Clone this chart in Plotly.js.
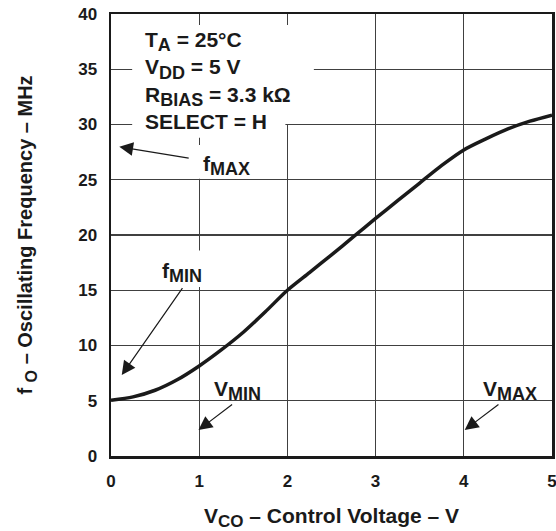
<!DOCTYPE html>
<html>
<head>
<meta charset="utf-8">
<script src="https://cdn.plot.ly/plotly-3.0.1.min.js"></script>
<style>html,body{margin:0;padding:0;background:#fff;}#chart{width:556px;height:531px;}</style>
</head>
<body>
<div id="chart"></div>
<script>
// Data
const vco = [0, 0.25, 0.5, 0.75, 1.0, 1.25, 1.5, 1.75, 2.0, 2.25, 2.5, 2.75, 3.0, 3.25, 3.5, 3.75, 4.0, 4.25, 4.5, 4.75, 5.0];
const freq = [5.05, 5.35, 5.95, 6.9, 8.15, 9.6, 11.2, 13.05, 15.0, 16.6, 18.2, 19.85, 21.5, 23.1, 24.7, 26.3, 27.7, 28.7, 29.6, 30.3, 30.85];
const xTicks = [0, 1, 2, 3, 4, 5];
const yTicks = [0, 5, 10, 15, 20, 25, 30, 35, 40];

const S = (t, px) => '<sub><span style="font-size:' + px + 'px">' + t + '</span></sub>';
const conditionLines = ['T' + S('A', 18) + ' = 25°C', 'V' + S('DD', 18) + ' = 5 V', 'R' + S('BIAS', 18) + ' = 3.3 kΩ', 'SELECT = H'];
const xTitle = 'V' + S('CO', 17) + ' – Control Voltage – V';
const yTitle = 'f ' + S('O', 16) + ' – Oscillating Frequency – MHz';

const FONT = 'Liberation Sans, Arial, sans-serif';
const txt = () => ({family: FONT, size: 21, color: '#1a1a1a', weight: 'bold'});

const trace = {
  x: vco, y: freq, type: 'scatter', mode: 'lines',
  line: {color: '#1a1a1a', width: 3.5, shape: 'spline', smoothing: 0.8},
  hoverinfo: 'skip', showlegend: false
};

const rect = (x0, x1, y0, y1) => ({type: 'rect', xref: 'x', yref: 'y', x0, x1, y0, y1,
  fillcolor: '#ffffff', line: {width: 0}, layer: 'between'});

const arrow = (x, y, ax, ay) => ({x, y, ax, ay, xref: 'x', yref: 'y', axref: 'x', ayref: 'y',
  text: '', showarrow: true, arrowhead: 2, arrowsize: 2.3, arrowwidth: 1.2, arrowcolor: '#1a1a1a', standoff: 0});

const label = (x, y, text) => ({x, y, xref: 'x', yref: 'y', text, showarrow: false,
  xanchor: 'left', yanchor: 'middle', font: txt()});

const layout = {
  width: 556, height: 531,
  margin: {l: 111, r: 4, t: 14, b: 75},
  paper_bgcolor: '#fff', plot_bgcolor: '#fff',
  font: {family: FONT, color: '#1a1a1a'},
  xaxis: {
    range: [0, 5], tickvals: xTicks, ticktext: xTicks.map(String), showgrid: true, gridcolor: '#404040', gridwidth: 1.2,
    zeroline: false, showline: true, linecolor: '#1a1a1a', linewidth: 2.5, mirror: true,
    ticks: '', ticklabelstandoff: 8, ticklabeloverflow: 'allow',
    tickfont: {family: FONT, size: 17, color: '#1a1a1a', weight: 'bold'},
    title: {text: xTitle, font: {family: FONT, size: 21, color: '#1a1a1a', weight: 'bold'}, standoff: 24},
    fixedrange: true
  },
  yaxis: {
    range: [0, 40], tickvals: yTicks, ticktext: yTicks.map(String), showgrid: true, gridcolor: '#404040', gridwidth: 1.2,
    zeroline: false, showline: true, linecolor: '#1a1a1a', linewidth: 2.5, mirror: true,
    ticks: '', ticklabelstandoff: 8,
    tickfont: {family: FONT, size: 17, color: '#1a1a1a', weight: 'bold'},
    title: {text: yTitle, font: {family: FONT, size: 20, color: '#1a1a1a', weight: 'bold'}, standoff: 40},
    fixedrange: true
  },
  shapes: [
    rect(0.24, 2.3, 30.05, 39.0),
    rect(0.24, 1.977, 28.8, 30.05),
    rect(0.9, 1.8, 25.1, 28.15),
    rect(0.5, 1.18, 15.3, 18.6)
  ],
  annotations: [
    {x: 0.36, y: 38.9, xref: 'x', yref: 'y', text: conditionLines.join('<br>'), showarrow: false,
     xanchor: 'left', yanchor: 'top', align: 'left', font: txt()},
    label(1.02, 26.3, 'f' + S('MAX', 18)),
    label(0.56, 16.6, 'f' + S('MIN', 18)),
    label(1.14, 5.9, 'V' + S('MIN', 18)),
    label(4.19, 5.9, 'V' + S('MAX', 18)),
    arrow(0.094, 27.99, 0.898, 26.94),
    arrow(0.122, 7.33, 0.822, 15.32),
    arrow(0.992, 2.35, 1.39, 4.77),
    arrow(4.01, 2.35, 4.41, 4.77)
  ]
};

Plotly.newPlot('chart', [trace], layout, {staticPlot: true, displayModeBar: false});
</script>
</body>
</html>
